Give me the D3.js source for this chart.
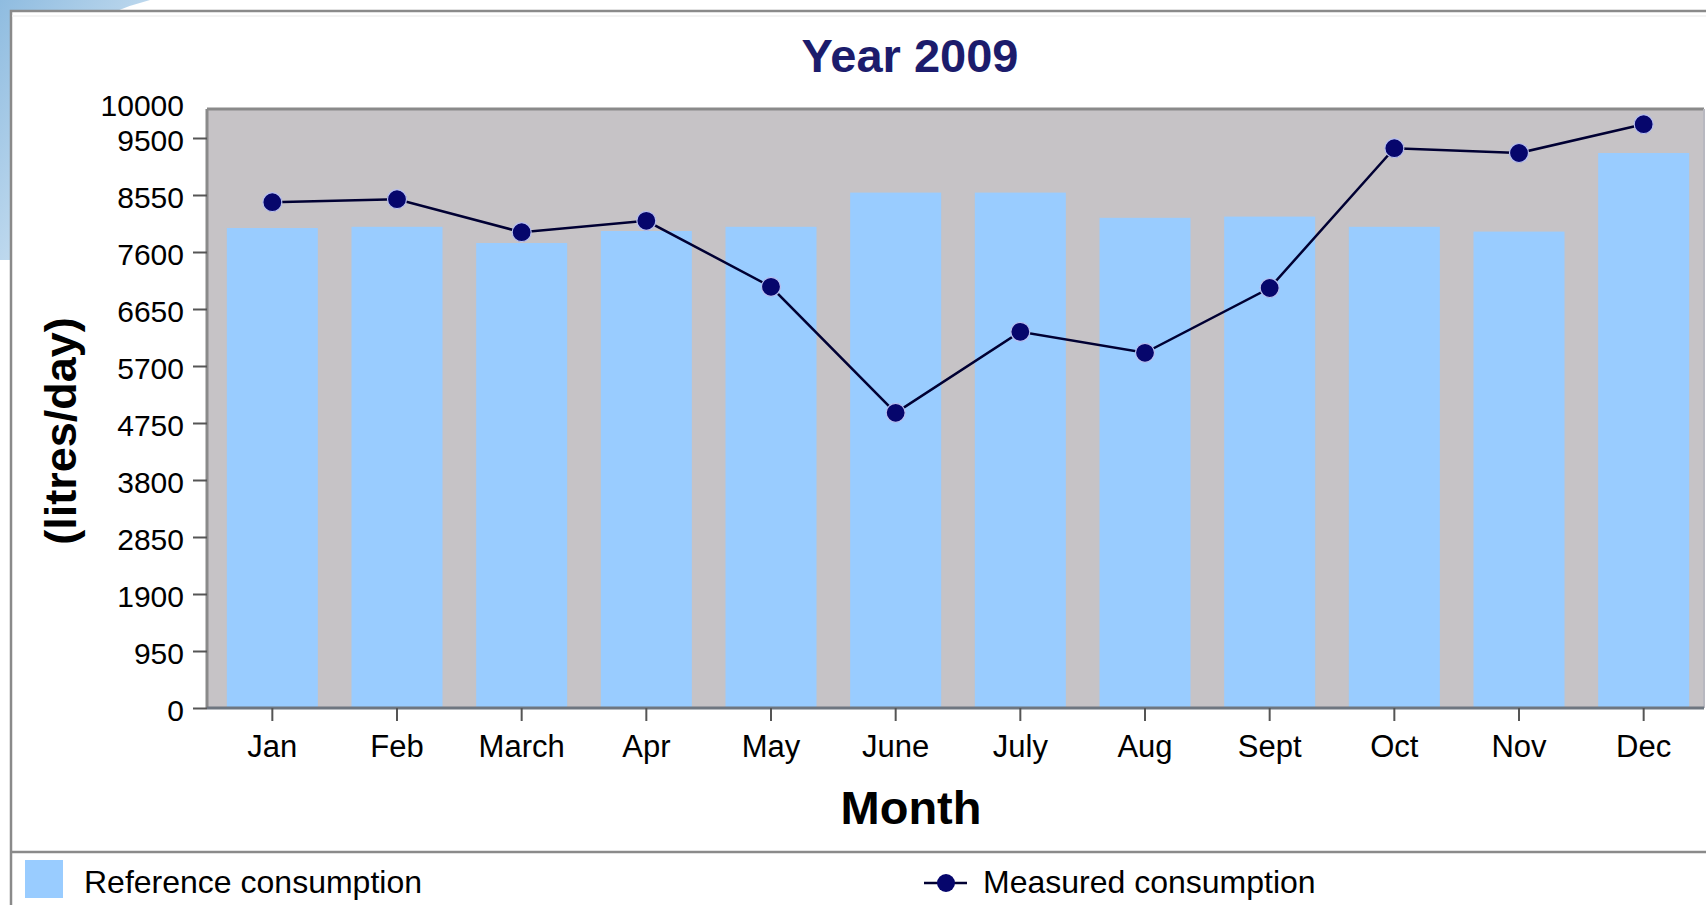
<!DOCTYPE html>
<html>
<head>
<meta charset="utf-8">
<script src="https://cdn.jsdelivr.net/npm/d3@7"></script>
<style>
  html, body { margin: 0; padding: 0; background: #fff; overflow: hidden; }
  text { font-family: "Liberation Sans", Arial, sans-serif; }
</style>
</head>
<body>
<script>
// ---- data ----
const months = ["Jan","Feb","March","Apr","May","June","July","Aug","Sept","Oct","Nov","Dec"];
const referenceConsumption = [8000, 8020, 7750, 7950, 8020, 8590, 8590, 8170, 8190, 8020, 7940, 9250];
const measuredConsumption  = [8430, 8480, 7930, 8120, 7020, 4920, 6270, 5920, 7000, 9330, 9250, 9730];
const yTickValues = [0, 950, 1900, 2850, 3800, 4750, 5700, 6650, 7600, 8550, 9500, 10000];
const titleText = "Year 2009";
const xTitle = "Month";
const yTitle = "(litres/day)";
const legendLabels = ["Reference consumption", "Measured consumption"];

const W = 1706, H = 905;
const svg = d3.select("body").append("svg").attr("width", W).attr("height", H);

// background decoration top-left
const defs = svg.append("defs");
const g1 = defs.append("linearGradient").attr("id","deco").attr("x1","0").attr("y1","0").attr("x2","1").attr("y2","1");
g1.append("stop").attr("offset","0").attr("stop-color","#8fbce0");
g1.append("stop").attr("offset","1").attr("stop-color","#e8f2fa");
svg.append("path").attr("d","M0,0 L150,0 Q70,20 12,90 L12,260 L0,260 Z").attr("fill","url(#deco)");

// outer frame
svg.append("rect").attr("x",11).attr("y",11).attr("width",W+20).attr("height",H+20)
  .attr("fill","#fff").attr("stroke","#8a8a8a").attr("stroke-width",2.5);
svg.append("line").attr("x1",12).attr("x2",W).attr("y1",16).attr("y2",16).attr("stroke","#f0f0f0").attr("stroke-width",1.5);
svg.append("line").attr("x1",11).attr("x2",W).attr("y1",852).attr("y2",852)
  .attr("stroke","#8a8a8a").attr("stroke-width",2.5);

// scales
const x = d3.scaleBand().domain(months).range([210, 1706]).padding(0);
const y = d3.scaleLinear().domain([0, 10000]).range([708, 108]);

// plot area
const plotL = 207, plotR = 1704, plotT = 109, plotB = 708;
svg.append("rect").attr("x",plotL).attr("y",plotT).attr("width",plotR-plotL).attr("height",plotB-plotT)
  .attr("fill","#c6c3c6");

// bars
const bw = x.bandwidth();
svg.append("g").selectAll("rect").data(months).join("rect")
  .attr("x", d => x(d) + bw*0.135)
  .attr("width", bw*0.73)
  .attr("y", (d,i) => y(referenceConsumption[i]))
  .attr("height", (d,i) => y(0) - y(referenceConsumption[i]))
  .attr("fill", "#99ccff");

// plot borders
svg.append("line").attr("x1",plotL).attr("x2",plotR).attr("y1",plotT).attr("y2",plotT).attr("stroke","#8a8a8a").attr("stroke-width",3);
svg.append("line").attr("x1",plotL).attr("x2",plotL).attr("y1",plotT).attr("y2",plotB).attr("stroke","#8a8a8a").attr("stroke-width",3);
svg.append("line").attr("x1",plotR).attr("x2",plotR).attr("y1",plotT).attr("y2",plotB).attr("stroke","#b8b8c0").attr("stroke-width",2);

// line + markers
const pts = months.map((m,i) => [x(m) + bw/2, y(measuredConsumption[i])]);
svg.append("path").datum(pts).attr("d", d3.line()).attr("fill","none")
  .attr("stroke","#000033").attr("stroke-width",2.5);
svg.append("g").selectAll("circle").data(pts).join("circle")
  .attr("cx", d => d[0]).attr("cy", d => d[1]).attr("r", 9.5)
  .attr("fill","#06066c").attr("stroke","#b8c0f0").attr("stroke-width",1.2);

// y axis
const yAxis = svg.append("g").attr("transform",`translate(${plotL},0)`)
  .call(d3.axisLeft(y).tickValues(yTickValues).tickSize(14).tickPadding(9).tickFormat(d3.format("d")));
yAxis.select(".domain").remove();
yAxis.selectAll(".tick line").attr("stroke","#555").attr("stroke-width",2)
  .attr("display", d => d === 10000 ? "none" : null);
yAxis.selectAll(".tick text").attr("font-size",30).attr("fill","#000")
  .attr("font-family","Liberation Sans, Arial, sans-serif")
  .attr("dy", d => d === 10000 ? "0.26em" : "0.42em");

// x axis
const xAxis = svg.append("g").attr("transform",`translate(0,${plotB})`)
  .call(d3.axisBottom(x).tickSize(13).tickPadding(14).tickSizeOuter(0));
xAxis.select(".domain").attr("stroke","#6e7680").attr("stroke-width",3).attr("d",`M${plotL},0H${plotR}`);
xAxis.selectAll(".tick line").attr("stroke","#555").attr("stroke-width",2);
xAxis.selectAll(".tick text").attr("font-size",31).attr("fill","#000")
  .attr("font-family","Liberation Sans, Arial, sans-serif");

// titles
svg.append("text").attr("x",910).attr("y",72).attr("text-anchor","middle")
  .attr("font-size",47).attr("font-weight","bold").attr("fill","#1c1c6c").text(titleText);
svg.append("text").attr("x",911).attr("y",824).attr("text-anchor","middle")
  .attr("font-size",47).attr("font-weight","bold").attr("fill","#000").text(xTitle);
svg.append("text").attr("transform","translate(60,431) rotate(-90)").attr("text-anchor","middle")
  .attr("dominant-baseline","central")
  .attr("font-size",45).attr("font-weight","bold").attr("fill","#000").text(yTitle);

// legend
svg.append("rect").attr("x",25).attr("y",860).attr("width",38).attr("height",38).attr("fill","#99ccff");
svg.append("text").attr("x",84).attr("y",893).attr("font-size",32).attr("fill","#000").text(legendLabels[0]);
svg.append("line").attr("x1",924).attr("x2",967).attr("y1",883).attr("y2",883).attr("stroke","#000033").attr("stroke-width",2.5);
svg.append("circle").attr("cx",946).attr("cy",883).attr("r",9).attr("fill","#06066c");
svg.append("text").attr("x",983).attr("y",893).attr("font-size",32).attr("fill","#000").text(legendLabels[1]);
</script>
</body>
</html>
